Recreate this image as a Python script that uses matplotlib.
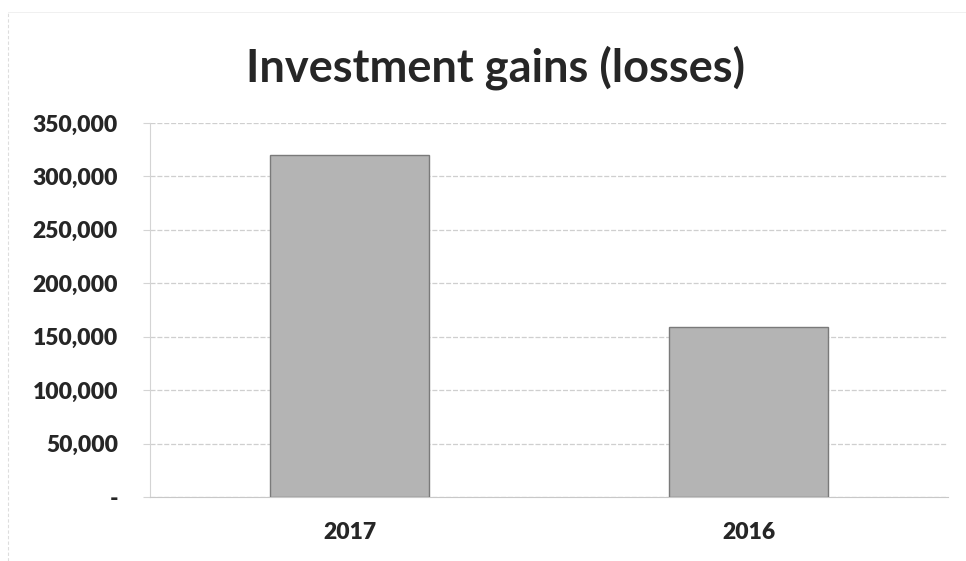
import matplotlib
matplotlib.use("Agg")
import matplotlib.pyplot as plt
from matplotlib.ticker import FuncFormatter, MultipleLocator

categories = ["2017", "2016"]
values = [320000, 159000]
title = "Investment gains (losses)"

plt.rcParams['font.family'] = ['Lato', 'DejaVu Sans']

fig = plt.figure(figsize=(9.66, 5.61), dpi=100)
ax = fig.add_axes([150/966, (561-497)/561, (948-150)/966, (497-123)/561])

x = list(range(len(categories)))
ax.bar(x, values, width=0.4, color="#b4b4b4", edgecolor="#7a7a7a", linewidth=1.0, zorder=3)

ax.set_xlim(-0.5, len(categories) - 0.5)
ax.set_ylim(0, 350000)
ax.yaxis.set_major_locator(MultipleLocator(50000))
ax.yaxis.set_major_formatter(FuncFormatter(lambda v, p: "-" if v == 0 else f"{int(v):,}"))
ax.set_xticks(x)
ax.set_xticklabels(categories)

ax.grid(axis="y", color="#cfcfcf", linewidth=0.9, linestyle=(0, (4, 1.5)), zorder=0)
for s in ["top", "right"]:
    ax.spines[s].set_visible(False)
ax.spines["left"].set_color("#d4d4d4")
ax.spines["bottom"].set_color("#c8c8c8")

ax.tick_params(axis="y", length=5, color="#d4d4d4", pad=18, labelsize=16.5, labelcolor="#262626")
ax.tick_params(axis="x", length=0, pad=18, labelsize=16.5, labelcolor="#262626")
for lab in ax.get_yticklabels() + ax.get_xticklabels():
    lab.set_fontweight("heavy")

fig.text(495/966, 1 - 68/561, title, ha="center", va="center", fontsize=32.5, fontweight="bold", color="#262626")

# faint chart border on the left
fig.add_artist(plt.Line2D([8/966, 8/966], [0, 1 - 12/561], color="#dddddd", linewidth=0.8, linestyle=(0, (3, 2))))
fig.add_artist(plt.Line2D([8/966, 1], [1 - 12/561, 1 - 12/561], color="#eeeeee", linewidth=0.6))

fig.savefig("out.png", dpi=100, facecolor="white")
